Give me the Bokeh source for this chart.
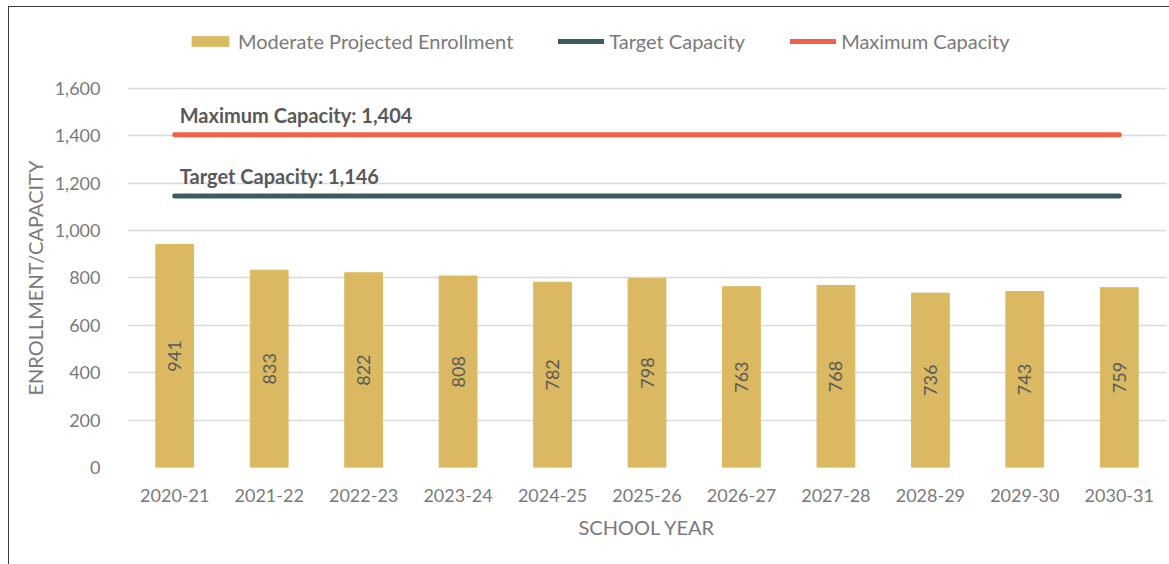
import math
from bokeh.plotting import figure
from bokeh.models import (ColumnDataSource, FactorRange, Range1d, FixedTicker,
                          NumeralTickFormatter, Legend, LegendItem, Title)
from bokeh.core.properties import value
from bokeh.embed import file_html
from bokeh.resources import INLINE

years = ["2020-21", "2021-22", "2022-23", "2023-24", "2024-25", "2025-26",
         "2026-27", "2027-28", "2028-29", "2029-30", "2030-31"]
enrollment = [941, 833, 822, 808, 782, 798, 763, 768, 736, 743, 759]
target_capacity = [1146] * len(years)
maximum_capacity = [1404] * len(years)
y_ticks = [0, 200, 400, 600, 800, 1000, 1200, 1400, 1600]

FONT = "Lato"
GOLD = "#DBB962"
TEAL = "#3B5A62"
RED = "#F0604A"
GRAY = "#7A7A7A"
DARK = "#595959"

src = ColumnDataSource(dict(
    year=years,
    enr=enrollment,
    mid=[e / 2 for e in enrollment],
    lbl=[str(e) for e in enrollment],
    tgt=target_capacity,
    mx=maximum_capacity,
))

p = figure(width=1161, height=558, output_backend="svg", toolbar_location=None,
           x_range=FactorRange(*years, range_padding=0),
           y_range=Range1d(0, 1912),
           min_border_left=118, min_border_right=4, min_border_top=7,
           min_border_bottom=98)
p.outline_line_color = None
p.background_fill_color = "white"
p.border_fill_color = "white"
p.styles = {"margin-left": "8px", "margin-top": "6px",
            "border-left": "1px solid #3a3a3a", "border-top": "1px solid #3a3a3a"}

bars = p.vbar(x="year", top="enr", width=0.4, source=src, fill_color=GOLD,
              line_color=GOLD)
tl = p.line(x="year", y="tgt", source=src, line_color=TEAL, line_width=5,
            line_cap="round")
ml = p.line(x="year", y="mx", source=src, line_color=RED, line_width=5,
            line_cap="round")

p.text(x="year", y="mid", text="lbl", source=src, angle=math.pi / 2,
       text_align="center", text_baseline="middle", text_color=DARK,
       text_font=value(FONT), text_font_size="18px")

ann = ColumnDataSource(dict(
    x=[years[0], years[0]],
    y=[maximum_capacity[0], target_capacity[0]],
    t=["Maximum Capacity: 1,404", "Target Capacity: 1,146"],
))
p.text(x="x", y="y", text="t", source=ann, x_offset=5, y_offset=-8,
       text_baseline="bottom", text_align="left", text_color=DARK,
       text_font=value(FONT), text_font_size="20px", text_font_style="bold")

p.xgrid.grid_line_color = None
p.ygrid.grid_line_color = "#D9D9D9"
p.ygrid.grid_line_width = 1.5
p.yaxis.ticker = FixedTicker(ticks=y_ticks)
p.yaxis.formatter = NumeralTickFormatter(format="0,0")

for ax in (p.xaxis[0], p.yaxis[0]):
    ax.axis_line_color = None
    ax.major_tick_line_color = None
    ax.minor_tick_line_color = None
    ax.major_label_text_font = FONT
    ax.major_label_text_font_size = "18px"
    ax.major_label_text_color = GRAY
    ax.axis_label_text_font = FONT
    ax.axis_label_text_font_size = "20px"
    ax.axis_label_text_color = GRAY
    ax.axis_label_text_font_style = "normal"

p.yaxis.major_label_standoff = 21
p.xaxis.axis_label = "SCHOOL YEAR"
p.xaxis.major_label_standoff = 15
p.xaxis.axis_label_standoff = 10

ytitle = Title(text="ENROLLMENT/CAPACITY", align="left", offset=72,
               text_font=FONT, text_font_size="20px", text_color=GRAY,
               text_font_style="normal", standoff=10)
p.add_layout(ytitle, "left")

legend = Legend(items=[
    LegendItem(label="Moderate Projected Enrollment", renderers=[bars]),
    LegendItem(label="Target Capacity", renderers=[tl]),
    LegendItem(label="Maximum Capacity", renderers=[ml]),
], orientation="horizontal", location=(60, 414))
legend.glyph_width = 46
legend.glyph_height = 12
legend.label_standoff = 5
legend.spacing = 45
legend.padding = 0
legend.margin = 0
legend.border_line_color = None
legend.background_fill_alpha = 0
legend.label_text_font = FONT
legend.label_text_font_size = "20px"
legend.label_text_color = GRAY
p.add_layout(legend, "center")

open("out.html", "w").write(file_html(p, INLINE))
